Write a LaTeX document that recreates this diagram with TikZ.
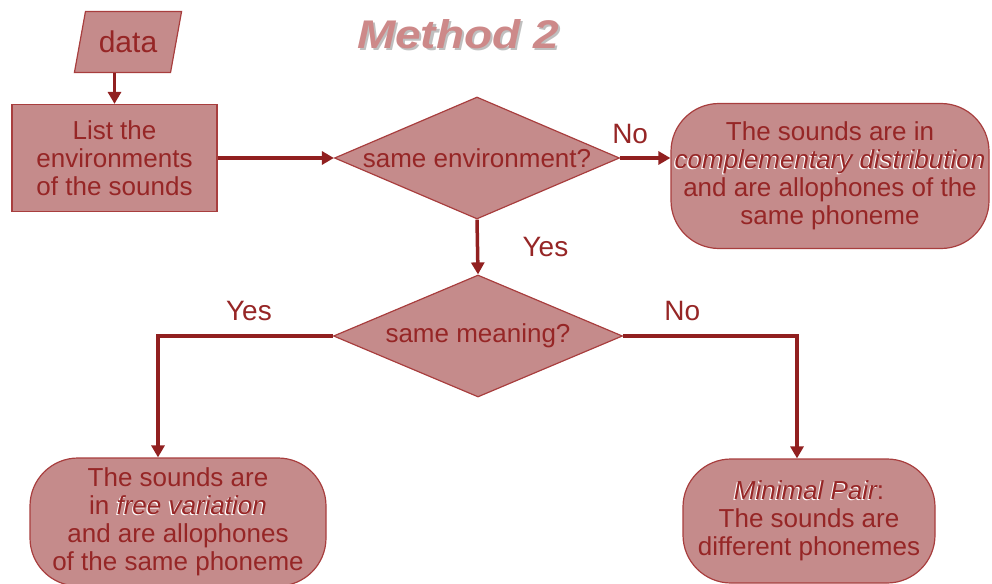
\documentclass[tikz,border=0pt]{standalone}
\usepackage{fontspec}
\setmainfont{Liberation Sans}
\usetikzlibrary{arrows.meta,shapes.geometric}
\usepackage{xcolor}
\definecolor{boxfill}{RGB}{197,139,139}
\definecolor{boxline}{RGB}{168,62,62}
\definecolor{darkword}{RGB}{150,38,38}
\definecolor{arrowred}{RGB}{145,32,32}
\definecolor{titlered}{RGB}{205,137,137}
\newcommand{\glossy}[1]{\leavevmode\rlap{\kern-1.2pt\raisebox{-1.2pt}{\color{white}\itshape #1}}{\itshape #1}}
\newcommand{\titleshadow}[1]{\leavevmode\rlap{\kern2.5pt\raisebox{-2.5pt}{\color{black!25}#1}}#1}

\begin{document}
\begin{tikzpicture}[x=1pt,y=-1pt,font=\fontsize{26}{28}\selectfont,
  every node/.style={text=darkword},
  boxed/.style={draw=boxline,fill=boxfill,line width=1.2pt,align=center},
  choice/.style={boxed,diamond,aspect=2.34,inner sep=0pt},
  ending/.style={boxed,rectangle,rounded corners=48pt},
  flow/.style={draw=arrowred,line width=3.5pt,-{Triangle[length=12pt,width=13pt]}},
  answer/.style={font=\fontsize{28}{30}\selectfont}]
  \useasboundingbox (0,0) rectangle (992,583);
  \node[font=\fontsize{40}{40}\selectfont\bfseries\itshape,text=titlered] (title) at (458,35)
    {\titleshadow{\scalebox{1.15}[1]{Method 2}}};
  \node[boxed,trapezium,trapezium left angle=71,trapezium right angle=109,
    trapezium stretches=true,minimum width=108pt,minimum height=61pt,inner sep=0pt,
    font=\fontsize{30}{30}\selectfont] (data) at (128,42) {data};
  \node[boxed,rectangle,minimum width=205pt,minimum height=107pt] (list) at (114.5,158)
    {List the\\environments\\of the sounds};
  \node[choice,minimum width=285pt,minimum height=122pt] (envq) at (477,158) {same environment?};
  \node[ending,minimum width=318pt,minimum height=145pt] (comp) at (830,176)
    {The sounds are in\\\glossy{complementary distribution}\\and are allophones of the\\same phoneme};
  \node[choice,minimum width=289pt,minimum height=122pt] (meanq) at (478,336) {same meaning?};
  \node[ending,minimum width=296pt,minimum height=128pt] (free) at (178,522)
    {The sounds are\\in \glossy{free variation}\\and are allophones\\of the same phoneme};
  \node[ending,minimum width=252pt,minimum height=124pt] (pair) at (809,521)
    {\glossy{Minimal Pair}:\\The sounds are\\different phonemes};

  \draw[flow] (data.south -| list.north) -- (list.north);
  \draw[flow] (list.east) -- (envq.west);
  \draw[flow] (envq.east) -- (envq.east -| comp.west) node[answer,pos=0.2,above=9pt] {No};
  \draw[flow] (envq.south) -- (meanq.north) node[answer,midway,right=40pt] {Yes};
  \draw[flow] (meanq.west) -| ([xshift=-20pt]free.north) node[answer,pos=0.24,above=10pt] {Yes};
  \draw[flow] (meanq.east) -| ([xshift=-12pt]pair.north) node[answer,pos=0.17,above=10pt] {No};
\end{tikzpicture}
\end{document}
